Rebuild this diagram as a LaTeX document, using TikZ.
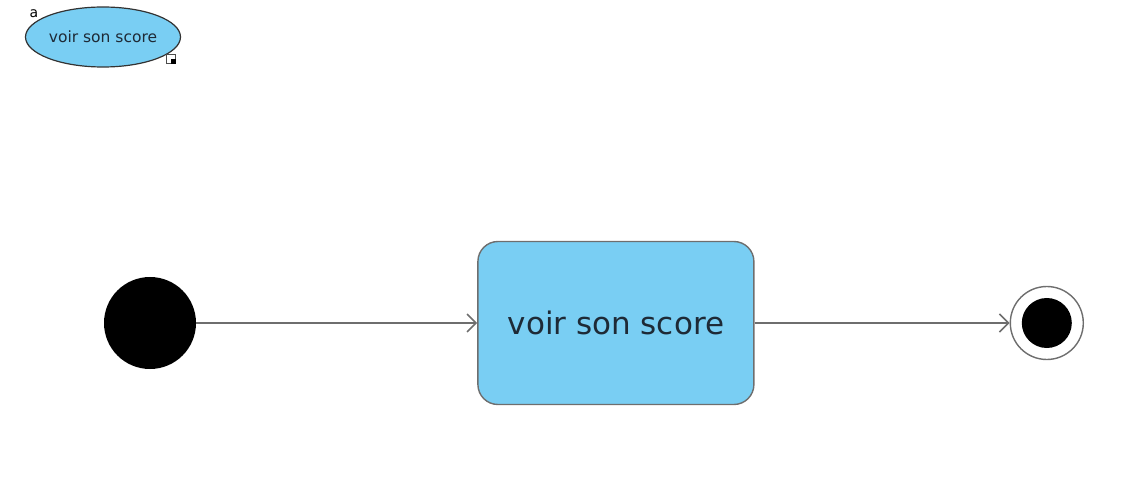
\documentclass[tikz,border=0pt]{standalone}
\usepackage{fontspec}
\setmainfont{DejaVu Sans}
\usetikzlibrary{shapes.geometric, arrows.meta, positioning}

\definecolor{actblue}{HTML}{79CEF3}
\definecolor{edgegray}{HTML}{6E6E6E}
\definecolor{labelink}{HTML}{1E2A36}

\begin{document}
\begin{tikzpicture}[
    x=1pt, y=-1pt,
    node distance=2cm,
    usecase/.style={ellipse, draw=black!80, line width=1.2pt, fill=actblue, minimum width=155pt, minimum height=60pt, inner sep=0pt, text=labelink, font=\fontsize{15.5}{18}\selectfont},
    action/.style={rectangle, draw=edgegray, line width=1.4pt, fill=actblue, rounded corners=20pt, minimum width=276pt, minimum height=163pt, text=labelink, font=\fontsize{31}{36}\selectfont},
    initial/.style={circle, fill=black, minimum size=92pt, inner sep=0pt},
    finalring/.style={circle, draw=edgegray, line width=1.4pt, fill=white, minimum size=73pt, inner sep=0pt},
    finaldot/.style={circle, fill=black, minimum size=50pt, inner sep=0pt},
    arrow/.style={draw=edgegray, line width=1.6pt, -{Straight Barb[length=9pt, width=18pt, line width=1.6pt]}}
]
\useasboundingbox (0,0) rectangle (1127,486);

% Small use case in the corner
\node[usecase] (ucase) at (103,37) {voir son score};
\node[font=\fontsize{14}{16}\selectfont, inner sep=0pt] (alabel) at (34,14) {a};
\node[draw=black!70, fill=white, minimum size=9pt, inner sep=0pt] (ucicon) at (171,59) {};
\fill[black] (ucicon.center) rectangle (ucicon.south east);

% Activity
\node[initial] (start) at (150,323) {};
\node[action, right=281pt of start] (score) {voir son score};
\node[finalring, right=255pt of score] (final) {};
\node[finaldot] (finalin) at (final) {};

% Arrows
\draw[arrow] (start) -- (score);
\draw[arrow] (score) -- (final);

\end{tikzpicture}
\end{document}
